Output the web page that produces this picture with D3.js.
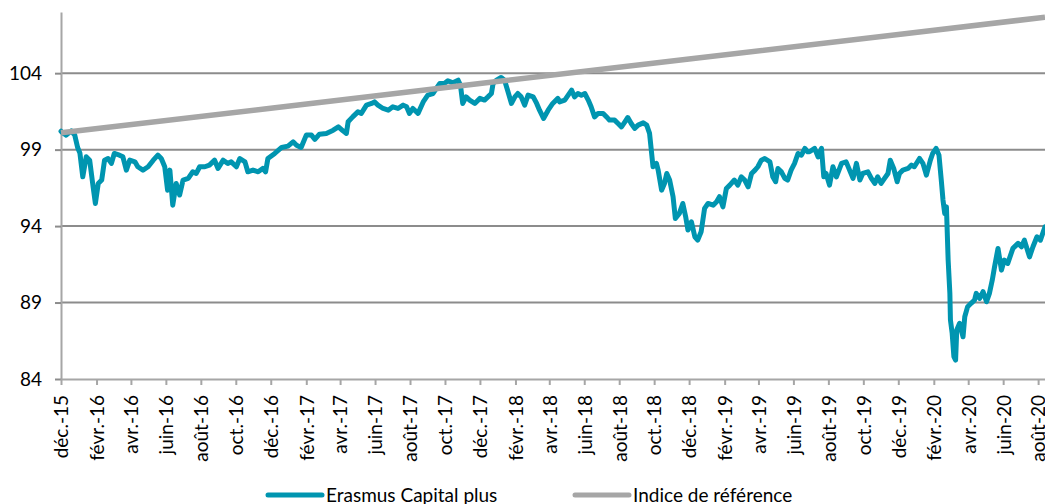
<!DOCTYPE html>
<html>
<head>
<meta charset="utf-8">
<script src="https://cdn.jsdelivr.net/npm/d3@7"></script>
<style>
  html, body { margin: 0; padding: 0; background: #ffffff; }
  svg { display: block; }
</style>
</head>
<body>
<div id="chart"></div>
<script>
// Erasmus Capital plus vs indice de référence — base 100, déc. 2015 à août 2020

// Valeurs (date, valeur)
const erasmus = [
  ["2015-12-01",100.2],["2015-12-02",100.16],["2015-12-10",99.95],["2015-12-19",100.23],["2015-12-25",99.95],
  ["2015-12-30",99.14],["2016-01-03",98.77],["2016-01-08",97.22],["2016-01-14",98.53],["2016-01-20",98.31],
  ["2016-01-26",96.57],["2016-01-30",95.48],["2016-02-04",96.79],["2016-02-10",97.01],["2016-02-15",98.31],
  ["2016-02-21",98.42],["2016-02-27",98.10],["2016-03-03",98.75],["2016-03-12",98.64],["2016-03-18",98.53],
  ["2016-03-24",97.66],["2016-03-30",98.31],["2016-04-08",98.20],["2016-04-13",97.88],["2016-04-22",97.66],
  ["2016-05-01",97.88],["2016-05-10",98.31],["2016-05-18",98.64],["2016-05-24",98.42],["2016-05-30",97.88],
  ["2016-06-04",96.35],["2016-06-08",97.66],["2016-06-13",95.37],["2016-06-19",96.79],["2016-06-25",96.03],
  ["2016-07-01",97.01],["2016-07-10",97.12],["2016-07-18",97.55],["2016-07-24",97.44],["2016-07-30",97.88],
  ["2016-08-08",97.88],["2016-08-16",97.99],["2016-08-25",98.31],["2016-08-31",97.77],["2016-09-09",98.31],
  ["2016-09-17",98.10],["2016-09-23",98.20],["2016-10-02",97.88],["2016-10-08",98.42],["2016-10-17",98.20],
  ["2016-10-22",97.55],["2016-10-31",97.66],["2016-11-09",97.55],["2016-11-17",97.77],["2016-11-22",97.55],
  ["2016-11-26",98.42],["2016-12-08",98.75],["2016-12-20",99.14],["2016-12-31",99.23],["2017-01-09",99.51],
  ["2017-01-15",99.29],["2017-01-23",99.14],["2017-02-01",99.95],["2017-02-10",99.95],["2017-02-16",99.67],
  ["2017-02-24",100.01],["2017-03-08",100.06],["2017-03-20",100.27],["2017-03-29",100.49],["2017-04-06",100.23],
  ["2017-04-12",100.06],["2017-04-15",100.82],["2017-04-23",101.14],["2017-05-02",101.47],["2017-05-08",101.37],
  ["2017-05-17",101.91],["2017-05-26",102.02],["2017-05-31",102.12],["2017-06-06",101.91],["2017-06-15",101.69],
  ["2017-06-24",101.58],["2017-07-02",101.80],["2017-07-11",101.69],["2017-07-20",101.91],["2017-07-26",101.80],
  ["2017-07-31",101.37],["2017-08-06",101.69],["2017-08-15",101.37],["2017-08-24",102.12],["2017-09-01",102.56],
  ["2017-09-10",102.67],["2017-09-16",103.00],["2017-09-22",103.33],["2017-09-30",103.33],["2017-10-06",103.50],
  ["2017-10-15",103.37],["2017-10-24",103.54],["2017-10-28",103.22],["2017-11-01",102.02],["2017-11-07",102.45],
  ["2017-11-13",102.24],["2017-11-22",102.02],["2017-12-01",102.35],["2017-12-09",102.24],["2017-12-15",102.45],
  ["2017-12-21",102.67],["2017-12-24",103.33],["2017-12-30",103.54],["2018-01-07",103.72],["2018-01-13",103.54],
  ["2018-01-19",102.78],["2018-01-25",102.02],["2018-01-31",102.45],["2018-02-05",102.67],["2018-02-11",102.45],
  ["2018-02-17",101.91],["2018-02-23",102.56],["2018-03-04",102.45],["2018-03-10",102.02],["2018-03-15",101.58],
  ["2018-03-22",101.04],["2018-03-30",101.58],["2018-04-07",102.02],["2018-04-16",102.35],["2018-04-19",102.12],
  ["2018-04-28",102.24],["2018-05-04",102.56],["2018-05-10",102.89],["2018-05-15",102.45],["2018-05-21",102.67],
  ["2018-05-27",102.56],["2018-06-02",102.67],["2018-06-08",102.24],["2018-06-13",101.80],["2018-06-19",101.14],
  ["2018-06-25",101.37],["2018-07-04",101.37],["2018-07-10",101.14],["2018-07-15",100.93],["2018-07-24",100.93],
  ["2018-07-30",100.71],["2018-08-05",100.49],["2018-08-11",100.82],["2018-08-16",101.10],["2018-08-22",100.71],
  ["2018-08-28",100.39],["2018-09-03",100.60],["2018-09-12",100.75],["2018-09-18",100.60],["2018-09-23",100.06],
  ["2018-09-26",98.97],["2018-09-29",97.88],["2018-10-05",98.10],["2018-10-08",97.66],["2018-10-14",96.35],
  ["2018-10-19",96.79],["2018-10-23",97.44],["2018-10-28",97.01],["2018-11-03",95.92],["2018-11-07",94.50],
  ["2018-11-14",94.83],["2018-11-20",95.48],["2018-11-25",94.61],["2018-11-29",93.74],["2018-12-05",94.28],
  ["2018-12-11",93.30],["2018-12-16",93.08],["2018-12-22",93.63],["2018-12-28",95.16],["2019-01-03",95.48],
  ["2019-01-12",95.37],["2019-01-18",95.59],["2019-01-23",95.92],["2019-01-29",95.26],["2019-02-04",96.46],
  ["2019-02-10",96.68],["2019-02-18",97.01],["2019-02-24",96.68],["2019-03-02",97.22],["2019-03-08",97.01],
  ["2019-03-14",96.57],["2019-03-20",97.44],["2019-03-26",97.66],["2019-03-31",97.88],["2019-04-06",98.31],
  ["2019-04-12",98.42],["2019-04-21",98.20],["2019-04-26",97.22],["2019-05-01",96.90],["2019-05-05",97.77],
  ["2019-05-11",97.55],["2019-05-17",97.12],["2019-05-22",97.01],["2019-05-28",97.66],["2019-06-03",98.10],
  ["2019-06-09",98.75],["2019-06-15",98.64],["2019-06-21",99.08],["2019-06-26",98.86],["2019-06-29",98.86],
  ["2019-07-08",99.08],["2019-07-14",98.53],["2019-07-20",99.08],["2019-07-24",97.22],["2019-07-28",97.44],
  ["2019-08-03",96.68],["2019-08-09",97.88],["2019-08-15",97.22],["2019-08-24",98.10],["2019-09-01",98.20],
  ["2019-09-07",97.66],["2019-09-13",97.12],["2019-09-19",98.10],["2019-09-25",97.01],["2019-09-30",97.44],
  ["2019-10-09",97.55],["2019-10-15",97.12],["2019-10-21",96.79],["2019-10-26",97.22],["2019-11-01",96.79],
  ["2019-11-07",97.12],["2019-11-13",97.44],["2019-11-17",98.31],["2019-11-23",97.77],["2019-11-29",96.90],
  ["2019-12-03",97.44],["2019-12-09",97.66],["2019-12-18",97.77],["2019-12-24",97.99],["2019-12-29",97.88],
  ["2020-01-07",98.42],["2020-01-13",98.10],["2020-01-19",97.33],["2020-01-26",98.31],["2020-01-30",98.75],
  ["2020-02-05",99.08],["2020-02-10",98.64],["2020-02-14",97.01],["2020-02-17",95.70],["2020-02-20",94.83],
  ["2020-02-23",95.26],["2020-02-26",91.78],["2020-02-29",89.60],["2020-03-01",87.86],["2020-03-04",86.99],
  ["2020-03-07",85.46],["2020-03-10",85.24],["2020-03-12",87.20],["2020-03-17",87.64],["2020-03-23",86.76],
  ["2020-03-26",88.07],["2020-03-31",88.73],["2020-04-06",88.95],["2020-04-12",89.16],["2020-04-15",89.60],
  ["2020-04-21",89.27],["2020-04-27",89.71],["2020-05-03",89.05],["2020-05-08",89.60],["2020-05-13",90.47],
  ["2020-05-17",91.34],["2020-05-23",92.54],["2020-05-29",91.12],["2020-06-03",91.78],["2020-06-09",91.56],
  ["2020-06-18",92.54],["2020-06-27",92.87],["2020-07-03",92.65],["2020-07-08",93.08],["2020-07-17",91.99],
  ["2020-07-23",92.65],["2020-07-30",93.30],["2020-08-05",93.08],["2020-08-13",93.95]
];

// Indice de référence (droite presque parfaite)
const benchmark = [
  ["2015-12-01",100.1],["2016-12-01",101.71],["2017-12-01",103.32],
  ["2018-12-01",104.92],["2019-12-01",106.53],["2020-08-13",107.66]
];

const yTicks = [84, 89, 94, 99, 104];
const xTickLabels = [
  "déc.-15","févr.-16","avr.-16","juin-16","août-16","oct.-16","déc.-16",
  "févr.-17","avr.-17","juin-17","août-17","oct.-17","déc.-17",
  "févr.-18","avr.-18","juin-18","août-18","oct.-18","déc.-18",
  "févr.-19","avr.-19","juin-19","août-19","oct.-19","déc.-19",
  "févr.-20","avr.-20","juin-20","août-20"
];
const seriesNames = ["Erasmus Capital plus", "Indice de référence"];

(function () {
  "use strict";

  const W = 1045, H = 504;
  const FONT = "Lato, 'Open Sans', sans-serif";
  const TEAL = "#0095b0";
  const GREY = "#a6a6a6";

  const parse = d3.timeParse("%Y-%m-%d");
  const start = parse("2015-12-01");
  const end = parse("2020-08-13");

  const x = d3.scaleTime().domain([start, end]).range([61, 1045]);
  const y = d3.scaleLinear().domain([84, 108]).range([379, 12]);

  const svg = d3.select("#chart").append("svg")
    .attr("width", W).attr("height", H)
    .style("font-family", FONT);

  // horizontal gridlines (except the base)
  svg.append("g").selectAll("line")
    .data(yTicks.filter(d => d !== 84))
    .join("line")
    .attr("x1", 61).attr("x2", W)
    .attr("y1", d => y(d)).attr("y2", d => y(d))
    .attr("stroke", "#8c8c8c").attr("stroke-width", 2);

  // y axis
  const yAxis = svg.append("g")
    .attr("transform", "translate(61,0)")
    .call(d3.axisLeft(y).tickValues(yTicks).tickSizeInner(6).tickSizeOuter(0).tickPadding(13));
  yAxis.select(".domain").attr("stroke", "#a6a6a6").attr("stroke-width", 2);
  yAxis.selectAll(".tick line").attr("stroke", "#8c8c8c").attr("stroke-width", 2);
  yAxis.selectAll(".tick text")
    .attr("font-size", "19px").attr("font-family", FONT).attr("fill", "#000");

  // x axis
  const tickDates = d3.timeMonth.range(start, parse("2020-08-02"), 2);
  const xAxis = svg.append("g")
    .attr("transform", "translate(0,379)")
    .call(d3.axisBottom(x).tickValues(tickDates).tickSizeInner(6).tickSizeOuter(0)
      .tickFormat((d, i) => xTickLabels[i]));
  xAxis.select(".domain").attr("stroke", "#a6a6a6").attr("stroke-width", 2);
  xAxis.selectAll(".tick line").attr("stroke", "#a6a6a6").attr("stroke-width", 2);
  xAxis.selectAll(".tick text")
    .attr("transform", "rotate(-90)")
    .attr("text-anchor", "end")
    .attr("x", -16).attr("y", 0).attr("dy", "0.36em")
    .attr("font-size", "19px").attr("font-family", FONT).attr("fill", "#000");

  const line = d3.line()
    .x(d => x(parse(d[0])))
    .y(d => y(d[1]));

  svg.append("path")
    .datum(erasmus)
    .attr("d", line)
    .attr("fill", "none").attr("stroke", TEAL)
    .attr("stroke-width", 5).attr("stroke-linejoin", "round").attr("stroke-linecap", "round");

  svg.append("path")
    .datum(benchmark)
    .attr("d", line)
    .attr("fill", "none").attr("stroke", GREY)
    .attr("stroke-width", 5.5).attr("stroke-linejoin", "round");

  // legend
  const legend = [
    { name: seriesNames[0], color: TEAL, x0: 268 },
    { name: seriesNames[1], color: GREY, x0: 575 }
  ];
  const lg = svg.append("g");
  legend.forEach(l => {
    lg.append("line")
      .attr("x1", l.x0).attr("x2", l.x0 + 54)
      .attr("y1", 495).attr("y2", 495)
      .attr("stroke", l.color).attr("stroke-width", 5).attr("stroke-linecap", "round");
    lg.append("text")
      .attr("x", l.x0 + 58).attr("y", 502)
      .attr("font-size", "19px").attr("fill", "#000")
      .text(l.name);
  });
})();
</script>
</body>
</html>
